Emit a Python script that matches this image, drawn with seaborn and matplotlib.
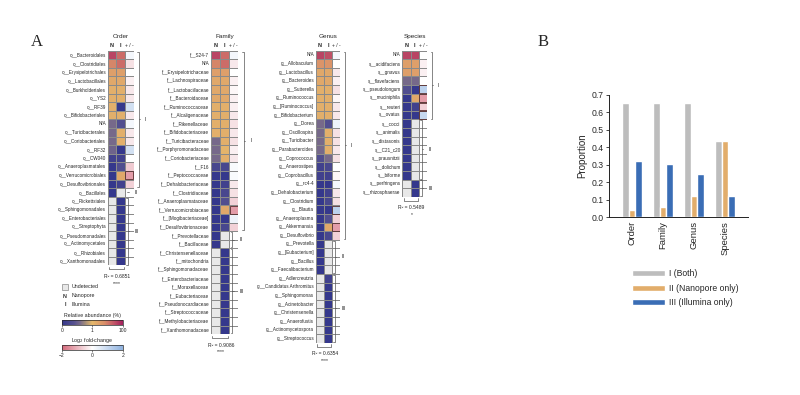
import numpy as np
import pandas as pd
import matplotlib
matplotlib.use("Agg")
import matplotlib.pyplot as plt
import seaborn as sns
from matplotlib.colors import LinearSegmentedColormap, ListedColormap, LogNorm, Normalize
from matplotlib.patches import Rectangle
from matplotlib.cm import ScalarMappable

sns.set_style("white")
plt.rcParams["font.family"] = ["Liberation Sans", "DejaVu Sans"]

ND = np.nan  # undetected / no fold change

# ---------- panel A: relative abundance (%) N = Nanopore, I = Illumina, log2 FC ----------
order_taxa = ["o__Bacteroidales", "o__Clostridiales", "o__Erysipelotrichales", "o__Lactobacillales",
              "o__Burkholderiales", "o__YS2", "o__RF39", "o__Bifidobacteriales", "N/A",
              "o__Turicibacterales", "o__Coriobacteriales", "o__RF32", "o__CW040",
              "o__Anaeroplasmatales", "o__Verrucomicrobiales", "o__Desulfovibrionales",
              "o__Bacillales", "o__Rickettsiales", "o__Sphingomonadales", "o__Enterobacteriales",
              "o__Streptophyta", "o__Pseudomonadales", "o__Actinomycetales", "o__Rhizobiales",
              "o__Xanthomonadales"]
order_n = [40, 8, 3, 2, 1.5, 1.5, 1.5, 1.5, 0.15, 0.15, 0.15, 0.12, 0.02, 0.01, 0.01, 0.01,
           0.01, ND, ND, ND, ND, ND, ND, ND, ND]
order_i = [15, 15, 3, 2, 1.5, 1.5, 0.01, 1.5, 0.05, 1.5, 1.5, 0.01, 0.02, 0.05, 2, 0.02,
           ND, 0.01, 0.01, 0.01, 0.01, 0.01, 0.01, 0.01, 0.01]
order_fc = [0.2, -0.4, 0.0, -0.2, -0.3, -0.3, 0.8, -0.3, 0.2, -0.3, -0.3, 0.8, 0.0, -0.7, -1.3, -0.6,
            ND, ND, ND, ND, ND, ND, ND, ND, ND]
order_boxed = ["o__Verrucomicrobiales"]
order_groups = [16, 1, 8]

family_taxa = ["f__S24-7", "N/A", "f__Erysipelotrichaceae", "f__Lachnospiraceae", "f__Lactobacillaceae",
               "f__Bacteroidaceae", "f__Ruminococcaceae", "f__Alcaligenaceae", "f__Rikenellaceae",
               "f__Bifidobacteriaceae", "f__Turicibacteraceae", "f__Porphyromonadaceae",
               "f__Coriobacteriaceae", "f__F16", "f__Peptococcaceae", "f__Dehalobacteriaceae",
               "f__Clostridiaceae", "f__Anaeroplasmataceae", "f__Verrucomicrobiaceae",
               "f__[Mogibacteriaceae]", "f__Desulfovibrionaceae", "f__Prevotellaceae", "f__Bacillaceae",
               "f__Christensenellaceae", "f__mitochondria", "f__Sphingomonadaceae",
               "f__Enterobacteriaceae", "f__Moraxellaceae", "f__Eubacteriaceae",
               "f__Pseudonocardiaceae", "f__Streptococcaceae", "f__Methylobacteriaceae",
               "f__Xanthomonadaceae"]
family_n = [40, 8, 3, 2, 2, 2, 1.5, 1.5, 1.5, 1.5, 0.15, 0.15, 0.15, 0.03, 0.01, 0.01, 0.01, 0.01,
            0.01, 0.01, 0.01, 0.01, 0.01] + [ND] * 10
family_i = [15, 15, 3, 2, 2, 2, 1.5, 1.5, 1.5, 1.5, 1.5, 1.2, 1.5, 0.03, 0.01, 0.02, 0.03, 0.05,
            2, 0.01, 0.03, ND, ND] + [0.01] * 10
family_fc = [0.2, -0.3, 0.0, -0.2, -0.1, -0.2, -0.2, -0.3, -0.4, -0.3, -0.4, -0.2, -0.3, 0.1, 0.1,
             -0.3, -0.4, -0.6, -1.3, 0.3, -0.6] + [ND] * 12
family_boxed = ["f__Verrucomicrobiaceae"]
family_groups = [21, 2, 10]

genus_taxa = ["N/A", "g__Allobaculum", "g__Lactobacillus", "g__Bacteroides", "g__Sutterella",
              "g__Ruminococcus", "g__[Ruminococcus]", "g__Bifidobacterium", "g__Dorea",
              "g__Oscillospira", "g__Turicibacter", "g__Parabacteroides", "g__Coprococcus",
              "g__Anaerostipes", "g__Coprobacillus", "g__rc4-4", "g__Dehalobacterium",
              "g__Clostridium", "g__Blautia", "g__Anaeroplasma", "g__Akkermansia", "g__Desulfovibrio",
              "g__Prevotella", "g__[Eubacterium]", "g__Bacillus", "g__Faecalibacterium",
              "g__Adlercreutzia", "g__Candidatus Arthromitus", "g__Sphingomonas", "g__Acinetobacter",
              "g__Christensenella", "g__Anaerofustis", "g__Actinomycetospora", "g__Streptococcus"]
genus_n = [40, 5, 2, 2, 1.5, 1.5, 1.5, 1.5, 0.15, 0.15, 0.15, 0.15, 0.05, 0.02, 0.02, 0.01, 0.01,
           0.01, 0.01, 0.01, 0.01, 0.01, 0.01, 0.01, 0.01, 0.01] + [ND] * 8
genus_i = [30, 5, 2, 2, 1.5, 1.5, 1.5, 1.5, 0.05, 1.5, 1.5, 1.5, 0.15, 0.03, 0.02, 0.01, 0.02,
           0.03, 0.01, 0.05, 2, 0.03, ND, ND, ND, ND, 0.02] + [0.01] * 7
genus_fc = [0.2, 0.0, -0.3, -0.2, -0.4, -0.1, -0.3, -0.3, 0.3, -0.4, -0.4, -0.3, -0.4, 0.0, -0.1,
            0.2, -0.3, -0.4, 1.2, -0.6, -1.3, -0.6] + [ND] * 12
genus_boxed = ["g__Blautia", "g__Akkermansia"]
genus_groups = [22, 4, 8]

species_taxa = ["N/A", "s__acidifaciens", "s__gnavus", "s__flavefaciens", "s__pseudolongum",
                "s__muciniphila", "s__reuteri", "s__ovatus", "s__cocci", "s__animalis",
                "s__distasonis", "s__C21_c20", "s__prausnitzii", "s__dolichum", "s__biforme",
                "s__perfringens", "s__rhizosphaerae"]
species_n = [40, 3, 3, 0.15, 0.05, 0.01, 0.01, 0.01, 0.01, 0.01, 0.01, 0.01, 0.01, 0.01, 0.01, ND, ND]
species_i = [40, 3, 3, 0.15, 0.01, 2, 0.02, 0.01, ND, ND, ND, ND, ND, ND, ND, 0.01, 0.01]
species_fc = [0.0, -0.2, -0.2, 0.0, 1.2, -1.3, -0.6, 1.0] + [ND] * 9
species_boxed = ["s__pseudolongum", "s__muciniphila", "s__reuteri", "s__ovatus"]
species_groups = [8, 7, 2]

r2_labels = ["R² = 0.6851", "R² = 0.9086", "R² = 0.6354", "R² = 0.5489"]
sig_labels = ["****", "****", "****", "*"]
group_names = ["I", "II", "III"]

# ---------- panel B ----------
levels = ["Order", "Family", "Genus", "Species"]
both_prop = [0.65, 0.65, 0.65, 0.435]
nano_prop = [0.04, 0.06, 0.12, 0.435]
illu_prop = [0.32, 0.305, 0.245, 0.12]
legend_names = ["I (Both)", "II (Nanopore only)", "III (Illumina only)"]

# colour maps
abund_cmap = LinearSegmentedColormap.from_list(
    "abund", [(0.0, "#35388c"), (0.2, "#56518f"), (0.3, "#786a8a"), (0.38, "#a08a7a"),
              (0.5, "#e5b86b"), (0.7, "#d98f69"), (0.85, "#c45868"), (1.0, "#a3205d")])
abund_norm = LogNorm(0.01, 100)
fc_cmap = LinearSegmentedColormap.from_list("fc", ["#d4687a", "#ffffff", "#8fb2df"])
fc_norm = Normalize(-2, 2)
undet_cmap = ListedColormap(["#e8e8e8"])

W, H = 800, 395
RH = 8.59
fig = plt.figure(figsize=(8, 3.95), dpi=100)


def box(l, t, w, h):
    return [l / W, 1 - (t + h) / H, w / W, h / H]


def draw_panel(title, taxa, n_vals, i_vals, fc_vals, boxed, groups, r2, sig, left, cw):
    nrow = len(taxa)
    ax = fig.add_axes(box(left, 50.7, 3 * cw, nrow * RH))
    df = pd.DataFrame({"N": n_vals, "I": i_vals, "FC": fc_vals}, index=taxa)
    abund = df.copy()
    abund["FC"] = np.nan
    fc = df.copy()
    fc[["N", "I"]] = np.nan
    undet_mask = df.isna().values.copy()
    undet_mask[:, 2] = False  # blank fold-change cells stay white
    undet = pd.DataFrame(undet_mask.astype(float), index=taxa, columns=df.columns)
    sns.heatmap(abund, mask=abund.isna(), cmap=abund_cmap, norm=abund_norm, cbar=False, ax=ax)
    sns.heatmap(fc, mask=fc.isna(), cmap=fc_cmap, norm=fc_norm, cbar=False, ax=ax)
    sns.heatmap(undet, mask=~undet_mask, cmap=undet_cmap, cbar=False, ax=ax,
                linewidths=0.5, linecolor="#8a8a8a")
    ax.set_xticks([])
    ax.set_yticks(np.arange(nrow) + 0.5)
    ax.set_yticklabels(taxa, fontsize=3.3)
    ax.tick_params(axis="y", length=0, pad=1.2)
    ax.set_xlabel("")
    ax.set_ylabel("")
    ax.set_xlim(0, 3)
    ax.set_ylim(nrow, 0)
    for name in boxed:
        r = taxa.index(name)
        ax.add_patch(Rectangle((2.04, r + 0.04), 0.92, 0.92, fill=False, ec="#5a3030", lw=0.6))
    ax.text(1.5, -1.7, title, ha="center", va="center", fontsize=4.6)
    ax.text(0.5, -0.6, "N", ha="center", va="center", fontsize=4, fontweight="bold")
    ax.text(1.5, -0.6, "I", ha="center", va="center", fontsize=4, fontweight="bold")
    ax.text(2.5, -0.6, "+ / -", ha="center", va="center", fontsize=3.6)
    # group brackets
    start = 0
    for k, g in enumerate(groups):
        y0, y1 = start + 0.1, start + g - 0.1
        bx = 3.6 if k == 0 else 2.35
        lx = 4.3 if k == 0 else 3.15
        if g == 1:
            ax.plot([bx - 0.15, bx + 0.15], [start + 0.5] * 2, color="#555555", lw=0.5, clip_on=False)
        else:
            ax.plot([bx - 0.2, bx, bx, bx - 0.2], [y0, y0, y1, y1], color="#555555", lw=0.5,
                    clip_on=False)
            mid = (y0 + y1) / 2
            ax.plot([bx, bx + 0.15], [mid, mid], color="#555555", lw=0.5, clip_on=False)
        ax.text(lx, start + g / 2, group_names[k], ha="left", va="center", fontsize=3.8)
        start += g
    ax.plot([0.15, 0.15, 1.85, 1.85], [nrow + 0.2, nrow + 0.45, nrow + 0.45, nrow + 0.2],
            color="#555555", lw=0.5, clip_on=False)
    ax.text(1.1, nrow + 1.3, r2, ha="center", va="center", fontsize=3.6)
    ax.text(1.1, nrow + 2.05, sig, ha="center", va="center", fontsize=3.6)
    return ax


draw_panel("Order", order_taxa, order_n, order_i, order_fc, order_boxed, order_groups,
           r2_labels[0], sig_labels[0], 107.7, 8.65)
draw_panel("Family", family_taxa, family_n, family_i, family_fc, family_boxed, family_groups,
           r2_labels[1], sig_labels[1], 211.0, 9.1)
draw_panel("Genus", genus_taxa, genus_n, genus_i, genus_fc, genus_boxed, genus_groups,
           r2_labels[2], sig_labels[2], 315.7, 8.2)
draw_panel("Species", species_taxa, species_n, species_i, species_fc, species_boxed, species_groups,
           r2_labels[3], sig_labels[3], 402.3, 8.3)

# panel A legend
fig.patches.append(Rectangle((62 / W, 1 - 290 / H), 6 / W, 6 / H, transform=fig.transFigure,
                             fc="#e8e8e8", ec="#8a8a8a", lw=0.5))
fig.text(72 / W, 1 - 287 / H, "Undetected", fontsize=3.8, va="center")
fig.text(65 / W, 1 - 296 / H, "N", fontsize=3.8, va="center", ha="center", fontweight="bold")
fig.text(72 / W, 1 - 296 / H, "Nanopore", fontsize=3.8, va="center")
fig.text(65 / W, 1 - 304 / H, "I", fontsize=3.8, va="center", ha="center", fontweight="bold")
fig.text(72 / W, 1 - 304 / H, "Illumina", fontsize=3.8, va="center")

cax1 = fig.add_axes(box(61.7, 320, 61, 4.5))
cb1 = fig.colorbar(ScalarMappable(norm=abund_norm, cmap=abund_cmap), cax=cax1, orientation="horizontal")
cb1.set_ticks([0.01, 1, 100])
cb1.set_ticklabels(["0", "1", "100"])
cb1.ax.tick_params(labelsize=3.6, length=1.5, width=0.4, pad=1)
cb1.ax.minorticks_off()
cb1.outline.set_linewidth(0.5)
cax1.set_title("Relative abundance (%)", fontsize=3.8, pad=2)

cax2 = fig.add_axes(box(61.7, 345, 61, 4.5))
cb2 = fig.colorbar(ScalarMappable(norm=fc_norm, cmap=fc_cmap), cax=cax2, orientation="horizontal")
cb2.set_ticks([-2, 0, 2])
cb2.ax.tick_params(labelsize=3.6, length=1.5, width=0.4, pad=1)
cb2.outline.set_linewidth(0.5)
cax2.set_title("Log$_2$ fold-change", fontsize=3.8, pad=2)

fig.text(37 / W, 1 - 42 / H, "A", fontsize=12, family=["Liberation Serif"], ha="center", va="center")
fig.text(543 / W, 1 - 42 / H, "B", fontsize=12, family=["Liberation Serif"], ha="center", va="center")

# ---------- panel B ----------
bar_df = pd.DataFrame({
    "level": levels * 3,
    "prop": both_prop + nano_prop + illu_prop,
    "group": [legend_names[0]] * 4 + [legend_names[1]] * 4 + [legend_names[2]] * 4,
})
axb = fig.add_axes(box(609, 94.7, 139, 122.3))
sns.barplot(data=bar_df, x="level", y="prop", hue="group", order=levels, hue_order=legend_names,
            palette=["#bdbdbd", "#e2ad6b", "#3a6db5"], width=0.65, gap=0, saturation=1, ax=axb)
axb.set_xlim(-0.74, 3.74)
axb.set_ylim(0, 0.7)
axb.set_yticks(np.arange(0, 0.71, 0.1))
axb.set_yticklabels([f"{v:.1f}" for v in np.arange(0, 0.71, 0.1)])
axb.tick_params(axis="y", labelsize=6.2, length=2.5, width=0.6, pad=1.5, left=True)
axb.tick_params(axis="x", labelsize=6.8, length=0, pad=3, rotation=90)
axb.set_xlabel("")
axb.set_ylabel("Proportion", fontsize=7, labelpad=3)
sns.despine(ax=axb)
for s in ["left", "bottom"]:
    axb.spines[s].set_linewidth(0.7)
    axb.spines[s].set_color("#222222")
axb.legend(loc="upper left", bbox_to_anchor=(632 / W, 1 - 269 / H), bbox_transform=fig.transFigure,
           frameon=False, fontsize=6.2, handlelength=3.8, handleheight=0.7, handletextpad=0.45,
           labelspacing=0.65, borderpad=0, borderaxespad=0)

fig.savefig("out.png", dpi=100)
